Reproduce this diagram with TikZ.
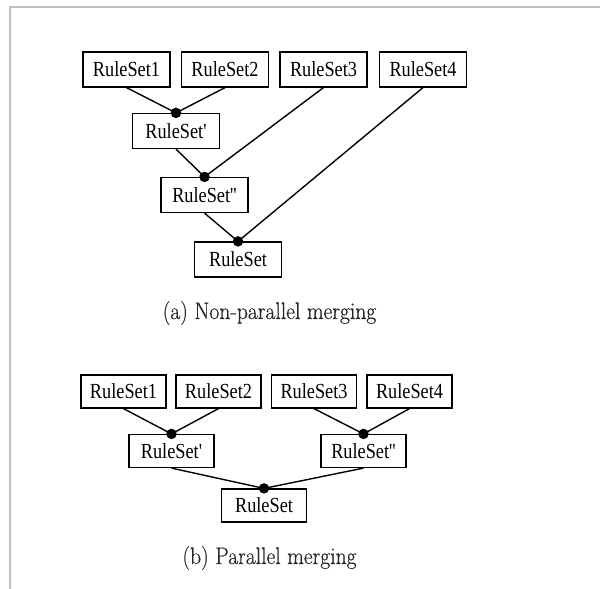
\documentclass[tikz,border=0pt]{standalone}
\usepackage{fontspec}
\newfontfamily\boxfont[FakeStretch=0.85]{Liberation Serif}
\newfontfamily\capfont[FakeStretch=0.9,FakeBold=0.4]{Latin Modern Roman}
\begin{document}
\begin{tikzpicture}[x=1pt,y=-1pt,
  rs/.style={draw=black,line width=1.2pt,minimum width=87pt,minimum height=35pt,inner sep=0pt,
    font=\boxfont\fontsize{21.5}{23}\selectfont},
  rsb/.style={rs,minimum width=85pt,minimum height=33pt},
  link/.style={draw=black,line width=1.4pt},
  dot/.style={fill=black,circle,inner sep=0pt,minimum size=10.5pt},
  captext/.style={font=\capfont\fontsize{24}{26}\selectfont,text=black!85}]
\useasboundingbox (0,0) rectangle (600,589);
\draw[black!25,line width=1.5pt] (600,7) -- (10,7) -- (10,589);
% (a)
\node[rs] (a1) at (126.5,69.5) {RuleSet1};
\node[rs] (a2) at (225,69.5) {RuleSet2};
\node[rs] (a3) at (323.5,69.5) {RuleSet3};
\node[rs] (a4) at (423,69.5) {RuleSet4};
\node[rs] (ap) at (176,131) {RuleSet'};
\node[rs] (app) at (204.5,195) {RuleSet''};
\node[rs] (a) at (238,259.5) {RuleSet};
\draw[link] (a1.south) -- (ap.north);
\draw[link] (a2.south) -- (ap.north);
\draw[link] (ap.south) -- (app.north);
\draw[link] (a3.south) -- (app.north);
\draw[link] (app.south) -- (a.north);
\draw[link] (a4.south) -- (a.north);
\node[dot] (dap) at (ap.north) {};
\node[dot] (dapp) at (app.north) {};
\node[dot] (da) at (a.north) {};
\node[captext] (capa) at (269.5,313) {(a) Non-parallel merging};
% (b)
\node[rsb] (b1) at (123.5,391.5) {RuleSet1};
\node[rsb] (b2) at (218.5,391.5) {RuleSet2};
\node[rsb] (b3) at (314,391.5) {RuleSet3};
\node[rsb] (b4) at (409.5,391.5) {RuleSet4};
\node[rsb] (bp) at (171.5,451) {RuleSet'};
\node[rsb] (bpp) at (363.5,451) {RuleSet''};
\node[rsb] (b) at (264,505.5) {RuleSet};
\draw[link] (b1.south) -- (bp.north);
\draw[link] (b2.south) -- (bp.north);
\draw[link] (b3.south) -- (bpp.north);
\draw[link] (b4.south) -- (bpp.north);
\draw[link] (bp.south) -- (b.north);
\draw[link] (bpp.south) -- (b.north);
\node[dot] (dbp) at (bp.north) {};
\node[dot] (dbpp) at (bpp.north) {};
\node[dot] (db) at (b.north) {};
\node[captext] (capb) at (269.5,558) {(b) Parallel merging};
\end{tikzpicture}
\end{document}
